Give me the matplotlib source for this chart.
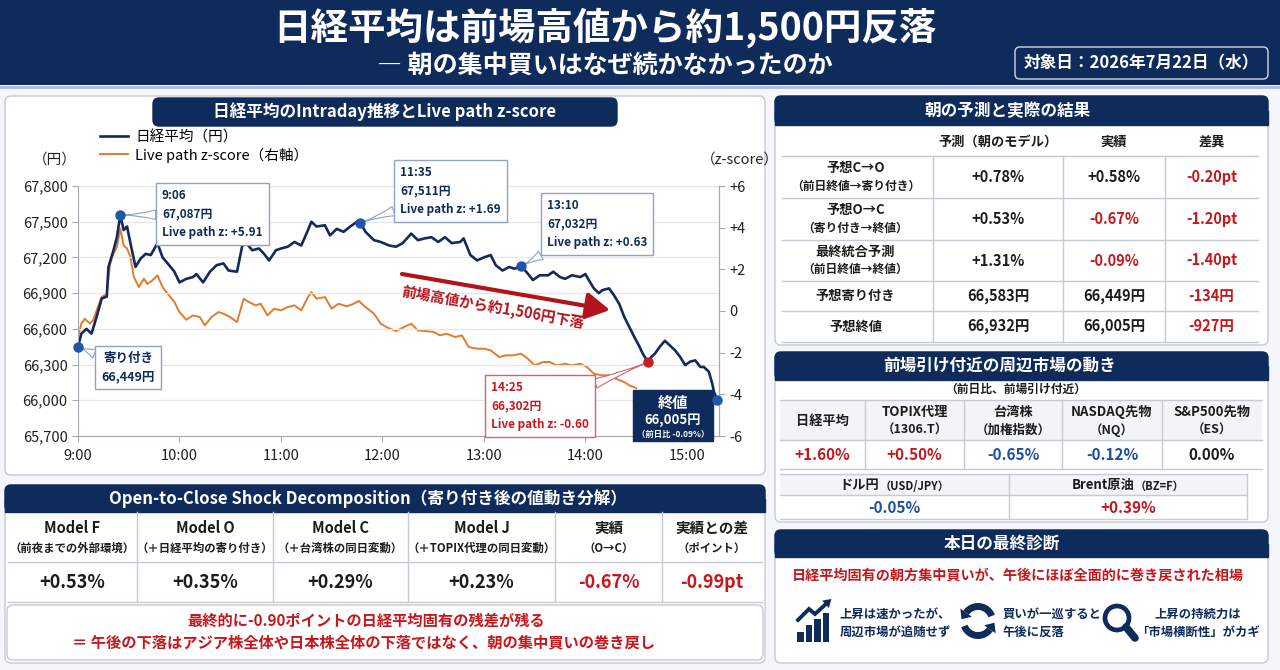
import matplotlib
matplotlib.use('Agg')
import matplotlib.pyplot as plt
from matplotlib.patches import FancyBboxPatch, Rectangle, Polygon, Circle
from matplotlib.ticker import FuncFormatter
import numpy as np

# ---- data -------------------------------------------------------------
# Nikkei intraday path (minutes after 9:00, yen)
nk_min = [0, 2, 5, 8, 11, 14, 17, 18, 21, 23,
          25, 27, 29, 31, 34, 37, 40, 43, 47, 50,
          53, 57, 60, 64, 68, 70, 74, 78, 82, 86,
          89, 94, 97, 99, 103, 107, 110, 113, 117, 120,
          124, 128, 132, 136, 138, 141, 146, 149, 153, 157,
          161, 165, 167, 170, 175, 179, 184, 188, 192, 197,
          201, 205, 209, 213, 217, 221, 226, 228, 232, 236,
          240, 244, 247, 251, 255, 258, 262, 265, 269, 273,
          278, 281, 285, 288, 292, 297, 300, 302, 305, 308,
          310, 314, 317, 320, 323, 326, 329, 332, 334, 337,
          339, 341, 344, 347, 350, 353, 356, 359, 362, 365,
          368, 370, 373, 375, 376, 378]
nk_val = [66450, 66560, 66600, 66560, 66700, 66855, 66870, 67120, 67260, 67370,
          67555, 67430, 67460, 67320, 67120, 67190, 67230, 67220, 67320, 67200,
          67150, 67080, 66990, 67020, 67035, 67060, 66990, 67080, 67135, 67150,
          67090, 67080, 67290, 67330, 67260, 67275, 67230, 67175, 67260, 67275,
          67290, 67330, 67300, 67430, 67500, 67460, 67470, 67385, 67440, 67415,
          67460, 67500, 67490, 67415, 67345, 67330, 67300, 67290, 67320, 67400,
          67345, 67360, 67370, 67330, 67370, 67320, 67330, 67360, 67220, 67175,
          67200, 67220, 67135, 67090, 67120, 67105, 67125, 67080, 67010, 67050,
          67050, 67080, 67035, 67020, 67050, 67035, 67060, 67010, 66940, 66900,
          66925, 66940, 66880, 66810, 66700, 66615, 66530, 66450, 66390, 66320,
          66365, 66390, 66450, 66500, 66460, 66420, 66365, 66295, 66325, 66335,
          66280, 66280, 66240, 66140, 66070, 66005]

# live path z-score (minutes after 9:00)
zs_min = [0, 2, 4, 7, 9, 11, 14, 17, 19, 21,
          23, 25, 27, 29, 31, 33, 36, 39, 41, 44,
          47, 50, 53, 57, 60, 64, 68, 72, 75, 79,
          83, 86, 90, 94, 98, 101, 105, 108, 112, 116,
          120, 124, 128, 132, 136, 138, 141, 146, 150, 154,
          159, 163, 166, 170, 175, 179, 183, 188, 192, 197,
          201, 205, 210, 214, 218, 223, 227, 231, 236, 240,
          244, 249, 253, 257, 262, 266, 270, 275, 279, 283,
          288, 292, 297, 301, 305, 310, 314, 318, 323, 326,
          330]
zs_val = [-1.25, -0.60, -0.37, -0.60, -0.45, 0.03, 0.67, 0.83, 2.27, 2.75,
          3.07, 3.95, 3.15, 3.00, 2.60, 1.63, 1.15, 1.55, 1.30, 1.47,
          1.71, 1.15, 0.83, 0.43, -0.05, -0.42, -0.21, -0.29, -0.69, -0.29,
          -0.05, -0.13, -0.29, -0.53, 0.59, 0.43, 0.27, 0.35, -0.21, 0.11,
          0.03, 0.19, 0.27, 0.03, 0.67, 0.91, 0.59, 0.67, 0.11, 0.35,
          0.22, 0.35, 0.48, 0.19, -0.13, -0.61, -0.80, -0.96, -0.80, -0.61,
          -0.93, -0.96, -1.00, -1.17, -1.09, -1.25, -1.17, -1.73, -1.81, -1.81,
          -1.89, -2.21, -2.13, -2.13, -2.05, -2.29, -2.61, -2.45, -2.45, -2.61,
          -2.53, -2.61, -2.53, -2.69, -3.01, -3.09, -3.09, -3.25, -3.41, -3.57,
          -3.70]

hour_labels = ['9:00', '10:00', '11:00', '12:00', '13:00', '14:00', '15:00']

# callouts on the chart
call_min = [25, 167, 262, 337]
call_time = ['9:06', '11:35', '13:10', '14:25']
call_price = ['67,087円', '67,511円', '67,032円', '66,302円']
call_z = ['+5.91', '+1.69', '+0.63', '-0.60']
open_label = ['寄り付き', '66,449円']
close_label = ['終値', '66,005円', '（前日比 -0.09%）']

# morning forecast vs result
pred_cols = ['予測（朝のモデル）', '実績', '差異']
pred_rows = ['予想C→O', '予想O→C', '最終統合予測', '予想寄り付き', '予想終値']
pred_sub = ['（前日終値→寄り付き）', '（寄り付き→終値）', '（前日終値→終値）', '', '']
pred_model = ['+0.78%', '+0.53%', '+1.31%', '66,583円', '66,932円']
pred_actual = ['+0.58%', '-0.67%', '-0.09%', '66,449円', '66,005円']
pred_diff = ['-0.20pt', '-1.20pt', '-1.40pt', '-134円', '-927円']

# surrounding markets
mkt_names = ['日経平均', 'TOPIX代理', '台湾株', 'NASDAQ先物', 'S&P500先物']
mkt_sub = ['', '（1306.T）', '（加権指数）', '（NQ）', '（ES）']
mkt_chg = [1.60, 0.50, -0.65, -0.12, 0.00]
fx_names = ['ドル円', 'Brent原油']
fx_sub = ['（USD/JPY）', '（BZ=F）']
fx_chg = [-0.05, 0.39]

# open-to-close decomposition
dec_names = ['Model F', 'Model O', 'Model C', 'Model J', '実績', '実績との差']
dec_sub = ['（前夜までの外部環境）', '（＋日経平均の寄り付き）', '（＋台湾株の同日変動）',
           '（＋TOPIX代理の同日変動）', '（O→C）', '（ポイント）']
dec_vals = ['+0.53%', '+0.35%', '+0.29%', '+0.23%', '-0.67%', '-0.99pt']

# ---- style ------------------------------------------------------------
NAVY = '#0f2b5b'
LINE_NAVY = '#15295b'
ORANGE = '#e27b2c'
RED = '#c8161d'
BLUE = '#1f4e9a'
DOT = '#1f56a8'
DARK = '#1c1c1c'
GRID = '#e3e6ea'
BORDER = '#c5cbd3'
PAGE = '#f4f6f9'

plt.rcParams['font.family'] = ['Noto Sans CJK JP', 'DejaVu Sans']

fig = plt.figure(figsize=(12.8, 6.7), dpi=100)
fig.patch.set_facecolor(PAGE)

# background axes in pixel coordinates (y downwards)
bg = fig.add_axes([0, 0, 1, 1])
bg.set_xlim(0, 1280)
bg.set_ylim(670, 0)
bg.axis('off')
bg.set_zorder(0)


def txt(x, y, s, fs, color=DARK, weight='bold', ha='center', va='center', z=5):
    return bg.text(x, y, s, fontsize=fs, color=color, fontweight=weight,
                   ha=ha, va=va, zorder=z)


def rbox(x0, y0, x1, y1, fc='white', ec=BORDER, lw=1.0, r=6, z=1):
    bg.add_patch(FancyBboxPatch((x0, y0), x1 - x0, y1 - y0,
                                boxstyle=f'round,pad=0,rounding_size={r}',
                                fc=fc, ec=ec, lw=lw, zorder=z))


def band(x0, y0, x1, y1, title, tx=None, fs=12):
    rbox(x0, y0, x1, y1, fc=NAVY, ec=NAVY, r=6, z=2)
    bg.add_patch(Rectangle((x0, (y0 + y1) / 2), x1 - x0, (y1 - y0) / 2,
                           fc=NAVY, ec=NAVY, lw=1, zorder=2))
    if tx is None:
        tx = (x0 + x1) / 2
    txt(tx, (y0 + y1) / 2, title, fs, color='white')


def hl(x0, x1, y, c=BORDER):
    bg.plot([x0, x1], [y, y], color=c, lw=1, zorder=3)


def vl(x, y0, y1, c=BORDER):
    bg.plot([x, x], [y0, y1], color=c, lw=1, zorder=3)


def pair(cx, y, a, b, fa, fb, color=DARK):
    # main label followed by a smaller note, centred as one piece
    ta = txt(0, y, a, fa, color=color, ha='left')
    tb = txt(0, y + 1, b, fb, color=color, ha='left')
    r = fig.canvas.get_renderer()
    wa = ta.get_window_extent(r).width
    wb = tb.get_window_extent(r).width
    x0 = cx - (wa + wb) / 2
    ta.set_x(x0)
    tb.set_x(x0 + wa)


def red_neg(s):
    return RED if s.startswith('-') else DARK


def mkt_col(v):
    return RED if v > 0 else (BLUE if v < 0 else DARK)


def pct(v):
    return '0.00%' if v == 0 else f'{v:+.2f}%'


# ---- header -----------------------------------------------------------
bg.add_patch(Rectangle((0, 0), 1280, 85, fc=NAVY, ec='none', zorder=1))
bg.plot([0, 1280], [86.5, 86.5], color='#a9bbd4', lw=2, zorder=1)
txt(605, 28, '日経平均は前場高値から約1,500円反落', 27, color='white')
txt(605, 66, '― 朝の集中買いはなぜ続かなかったのか', 18, color='white')
rbox(1015, 47, 1268, 79, fc=NAVY, ec='#d0d8e6', lw=1, r=5, z=2)
txt(1141, 63, '対象日：2026年7月22日（水）', 12, color='white')

# ---- chart panel ------------------------------------------------------
rbox(5, 96, 765, 475)
rbox(153, 98, 617, 126, fc=NAVY, ec=NAVY, r=6, z=2)
txt(385, 112, '日経平均のIntraday推移とLive path z-score', 12, color='white')
txt(55, 160, '（円）', 10.5, weight='normal', color='#222222')
txt(740, 160, '（z-score）', 10.5, weight='normal', color='#222222')

ax = fig.add_axes([78 / 1280, (670 - 436) / 670, (719 - 78) / 1280, 250 / 670])
ax2 = ax.twinx()
ax.set_zorder(3)
ax2.set_zorder(2)
ax.patch.set_visible(False)
ax2.patch.set_visible(False)

l2, = ax2.plot(zs_min, zs_val, color=ORANGE, lw=1.4, solid_joinstyle='round')
l1, = ax.plot(nk_min, nk_val, color=LINE_NAVY, lw=1.9, solid_joinstyle='round')

ax.set_xlim(0, 379)
ax.set_ylim(65700, 67800)
ax2.set_ylim(-6, 6)
ax.set_xticks(range(0, 361, 60))
ax.set_xticklabels(hour_labels)
ax.set_yticks(range(65700, 67801, 300))
ax.yaxis.set_major_formatter(FuncFormatter(lambda v, p: f'{int(v):,}'))
ax2.set_yticks(range(-6, 7, 2))
ax2.yaxis.set_major_formatter(FuncFormatter(lambda v, p: '0' if v == 0 else f'{int(v):+d}'))
ax.grid(axis='y', color=GRID, lw=0.9)
ax.set_axisbelow(True)
for a in (ax, ax2):
    a.spines['top'].set_visible(False)
    for s in ('left', 'right', 'bottom'):
        a.spines[s].set_color('#a3aab3')
    a.tick_params(colors='#a3aab3', labelcolor='#1f1f1f', labelsize=10.5, length=4)
ax2.spines['left'].set_visible(False)
ax2.spines['bottom'].set_visible(False)
ax.tick_params(axis='x', pad=5)

ax.legend([l1, l2], ['日経平均（円）', 'Live path z-score（右軸）'], loc='upper left',
          bbox_to_anchor=(100 / 1280, 1 - 130 / 670), bbox_transform=fig.transFigure,
          frameon=False, fontsize=10.5, handlelength=1.9, labelspacing=0.2,
          handletextpad=0.5, borderaxespad=0, borderpad=0)


def nearest(m):
    return int(np.argmin(np.abs(np.array(nk_min) - m)))


box_pos = [(155, 183), (393, 160), (540, 193), (484, 375)]
box_txt = [NAVY, NAVY, NAVY, RED]
box_edge = ['#8fa3c4', '#8fa3c4', '#8fa3c4', '#d4646a']
for m, t, p, z, (bx, by), tc, ec in zip(call_min, call_time, call_price, call_z,
                                       box_pos, box_txt, box_edge):
    i = nearest(m)
    ax.annotate(f'{t}\n{p}\nLive path z: {z}', xy=(nk_min[i], nk_val[i]),
                xytext=(bx + 7, by + 6), textcoords=bg.transData,
                ha='left', va='top', fontsize=8.5, fontweight='bold', color=tc,
                linespacing=1.55, zorder=5, annotation_clip=False,
                bbox=dict(boxstyle='square,pad=0.5', fc='white', ec=ec, lw=1),
                arrowprops=dict(arrowstyle='wedge,tail_width=0.8,shrink_factor=0.3',
                                fc='white', ec=ec, lw=0.8, shrinkA=0, shrinkB=2))

ax.annotate('\n'.join(open_label), xy=(nk_min[0], nk_val[0]),
            xytext=(128, 352), textcoords=bg.transData, ha='center', va='top',
            fontsize=9, fontweight='bold', color=NAVY, linespacing=1.5, zorder=5,
            annotation_clip=False,
            bbox=dict(boxstyle='square,pad=0.5', fc='white', ec='#8fa3c4', lw=1),
            arrowprops=dict(arrowstyle='wedge,tail_width=0.8,shrink_factor=0.3',
                            fc='white', ec='#8fa3c4', lw=0.8, shrinkA=0, shrinkB=2))

# closing value box
ax.add_patch(Rectangle((633, 390), 80, 51, transform=bg.transData, fc=NAVY,
                       ec=NAVY, zorder=5, clip_on=False))
for s, yy, fs in zip(close_label, [403, 420, 434], [11, 9.5, 6]):
    ax.text(673, yy, s, transform=bg.transData, ha='center', va='center',
            fontsize=fs, fontweight='bold', color='white', zorder=6)

# markers taken from the series
dots = [0] + [nearest(m) for m in call_min[:3]] + [len(nk_min) - 1]
ax.plot([nk_min[i] for i in dots], [nk_val[i] for i in dots], 'o', color=DOT,
        ms=6.5, zorder=7, clip_on=False)
ri = nearest(call_min[3])
ax.plot([nk_min[ri]], [nk_val[ri]], 'o', color='#c81e2a', ms=6.5, zorder=7,
        clip_on=False)

# decline arrow
ax.annotate('', xy=(610, 310), xytext=(402, 274), xycoords=bg.transData,
            textcoords=bg.transData, annotation_clip=False,
            arrowprops=dict(arrowstyle='-|>,head_length=0.8,head_width=0.45',
                            lw=3, color='#b3141b', mutation_scale=18,
                            shrinkA=0, shrinkB=0), zorder=4)
ax.text(493, 307, '前場高値から約1,506円下落', transform=bg.transData,
        rotation=-10, rotation_mode='anchor', ha='center', va='center',
        fontsize=10.5, fontweight='bold', color='#b3141b', zorder=4)

# ---- forecast vs result table ----------------------------------------
rbox(775, 96, 1268, 345)
band(775, 96, 1268, 125, '朝の予測と実際の結果', tx=1008)
cx1 = [778, 933, 1063, 1165, 1258]
ry1 = [156, 198, 240, 281, 311, 342]
for j, c in enumerate(pred_cols):
    txt((cx1[j + 1] + cx1[j + 2]) / 2, 142, c, 9.5)
for y in ry1:
    hl(782, 1258, y)
for x in cx1[1:4]:
    vl(x, ry1[0], ry1[-1])
for k in range(len(pred_rows)):
    yc = (ry1[k] + ry1[k + 1]) / 2
    lx = (cx1[0] + cx1[1]) / 2
    if pred_sub[k]:
        txt(lx, yc - 9, pred_rows[k], 9.5)
        txt(lx, yc + 9, pred_sub[k], 8.5)
    else:
        txt(lx, yc, pred_rows[k], 9.5)
    for j, v in enumerate([pred_model[k], pred_actual[k], pred_diff[k]]):
        txt((cx1[j + 1] + cx1[j + 2]) / 2, yc, v, 10.5, color=red_neg(v))

# ---- surrounding markets ---------------------------------------------
rbox(775, 352, 1268, 522)
band(775, 352, 1268, 380, '前場引け付近の周辺市場の動き', tx=1000)
txt(1016, 389, '（前日比、前場引け付近）', 8.5)
cx2 = [780, 865, 964, 1062, 1162, 1262]
bg.add_patch(Rectangle((780, 400), 482, 40, fc='#f2f4f7', ec='none', zorder=2))
for y in [400, 440, 469]:
    hl(780, 1262, y)
for x in cx2[1:5]:
    vl(x, 400, 469)
for j in range(len(mkt_names)):
    xc = (cx2[j] + cx2[j + 1]) / 2
    if mkt_sub[j]:
        txt(xc, 412, mkt_names[j], 9.5)
        txt(xc, 430, mkt_sub[j], 9)
    else:
        txt(xc, 421, mkt_names[j], 9.5)
    txt(xc, 455, pct(mkt_chg[j]), 11, color=mkt_col(mkt_chg[j]))
cx3 = [780, 1009, 1247]
bg.add_patch(Rectangle((780, 474), 467, 21, fc='#f2f4f7', ec='none', zorder=2))
for y in [474, 495, 519]:
    hl(780, 1247, y)
for x in cx3[1:]:
    vl(x, 474, 519)
for j in range(len(fx_names)):
    xc = (cx3[j] + cx3[j + 1]) / 2
    pair(xc, 485, fx_names[j], fx_sub[j], 9.5, 8)
    txt(xc, 508, pct(fx_chg[j]), 11, color=mkt_col(fx_chg[j]))

# ---- final diagnosis ---------------------------------------------------
rbox(775, 530, 1268, 663)
band(775, 530, 1268, 557, '本日の最終診断', tx=1002)
txt(1018, 576, '日経平均固有の朝方集中買いが、午後にほぼ全面的に巻き戻された相場', 10.2,
    color=RED)

# icon 1: rising bars
for k, h in enumerate([10, 17, 23, 29]):
    bg.add_patch(Rectangle((797 + k * 8.5, 642 - h), 6.5, h, fc=NAVY, ec='none', zorder=4))
path = np.array([[798, 620], [809, 609], [815, 614], [827, 603]])
bg.plot(path[:, 0], path[:, 1], color=NAVY, lw=2.8, solid_joinstyle='miter', zorder=4)
u = (path[-1] - path[-2]) / np.linalg.norm(path[-1] - path[-2])
nrm = np.array([-u[1], u[0]])
tip = path[-1] + u * 6
bg.add_patch(Polygon([tip, path[-1] - u * 2 + nrm * 5, path[-1] - u * 2 - nrm * 5],
                     fc=NAVY, ec='none', zorder=4))
txt(840, 614, '上昇は速かったが、', 8.9, color=NAVY, ha='left')
txt(840, 632, '周辺市場が追随せず', 8.9, color=NAVY, ha='left')

# icon 2: circular arrows
cxc, cyc, rr = 978, 621, 14.5
for a0, a1 in [(200, 325), (20, 145)]:
    ang = np.radians(np.linspace(a0, a1, 40))
    bg.plot(cxc + rr * np.cos(ang), cyc - rr * np.sin(ang), color=NAVY, lw=5,
            solid_capstyle='butt', zorder=4)
    e = np.radians(a1)
    p = np.array([cxc + rr * np.cos(e), cyc - rr * np.sin(e)])
    t = np.array([-np.sin(e), -np.cos(e)])
    n = np.array([np.cos(e), -np.sin(e)])
    bg.add_patch(Polygon([p + t * 8, p + n * 7, p - n * 7], fc=NAVY, ec='none', zorder=4))
txt(1003, 614, '買いが一巡すると', 8.9, color=NAVY, ha='left')
txt(1003, 632, '午後に反落', 8.9, color=NAVY, ha='left')

# icon 3: magnifier
bg.add_patch(Circle((1117, 618), 12, fill=False, ec=NAVY, lw=3.4, zorder=4))
bg.plot([1126, 1135], [627, 638], color=NAVY, lw=5.5, solid_capstyle='round', zorder=4)
txt(1198, 614, '上昇の持続力は', 8.9, color=NAVY)
txt(1198, 632, '「市場横断性」がカギ', 8.9, color=NAVY)

# ---- decomposition table ----------------------------------------------
rbox(5, 485, 765, 663)
band(5, 485, 765, 512, 'Open-to-Close Shock Decomposition（寄り付き後の値動き分解）',
     tx=368, fs=12)
cx4 = [8, 137, 273, 408, 555, 662, 762]
for y in [562, 602]:
    hl(8, 762, y)
for x in cx4[1:6]:
    vl(x, 512, 602)
for j in range(len(dec_names)):
    xc = (cx4[j] + cx4[j + 1]) / 2
    txt(xc, 528, dec_names[j], 10.5)
    txt(xc, 548, dec_sub[j], 8.2)
    txt(xc, 583, dec_vals[j], 13, color=red_neg(dec_vals[j]))
rbox(7, 605, 763, 660, r=6, z=2)
txt(366, 621, '最終的に-0.90ポイントの日経平均固有の残差が残る', 11, color=RED)
txt(364, 642, '＝ 午後の下落はアジア株全体や日本株全体の下落ではなく、朝の集中買いの巻き戻し',
    11, color=RED)

fig.savefig('out.png', dpi=100, facecolor=fig.get_facecolor())
